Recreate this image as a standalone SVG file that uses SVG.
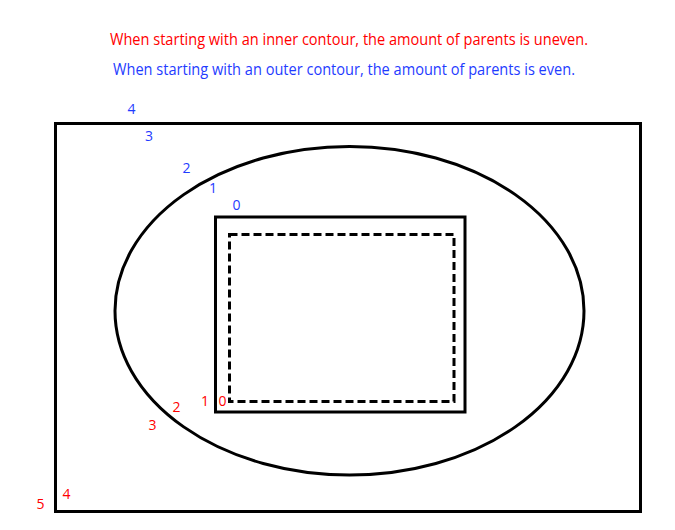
<svg xmlns="http://www.w3.org/2000/svg" width="675" height="530" viewBox="0 0 675 530">
<style>
.shape{fill:none;stroke:#000;stroke-width:3}
.dash{fill:none;stroke:#000;stroke-width:3;stroke-dasharray:8 4}
.t{font-family:"Open Sans","Liberation Sans",sans-serif}
.red{fill:#ff0000}
.blue{fill:#1f3cff}
.n{font-size:14px;text-anchor:middle}
.h{font-size:16px}
</style>
<rect width="675" height="530" fill="#fff"/>
<g id="captions">
<text class="t h red" x="110" y="45" textLength="478" lengthAdjust="spacingAndGlyphs">When starting with an inner contour, the amount of parents is uneven.</text>
<text class="t h blue" x="113" y="75" textLength="462" lengthAdjust="spacingAndGlyphs">When starting with an outer contour, the amount of parents is even.</text>
</g>
<g id="outer-rect"><rect class="shape" x="55.5" y="123.5" width="585" height="388"/></g>
<g id="ellipse"><ellipse class="shape" cx="349.5" cy="310.75" rx="234.5" ry="164.25"/></g>
<g id="inner-rect"><rect class="shape" x="215.5" y="217" width="249.5" height="195"/></g>
<g id="dashed-rect"><rect class="dash" x="229.5" y="234.5" width="224.5" height="167"/></g>
<g id="blue-labels" class="t n blue">
<text x="131.5" y="114">4</text>
<text x="149" y="141">3</text>
<text x="186.5" y="173">2</text>
<text x="213" y="193">1</text>
<text x="236.5" y="210">0</text>
</g>
<g id="red-labels" class="t n red">
<text x="205" y="406">1</text>
<text x="222.5" y="406">0</text>
<text x="176.5" y="412">2</text>
<text x="152.5" y="430">3</text>
<text x="66.5" y="499">4</text>
<text x="40.5" y="509">5</text>
</g>
</svg>
